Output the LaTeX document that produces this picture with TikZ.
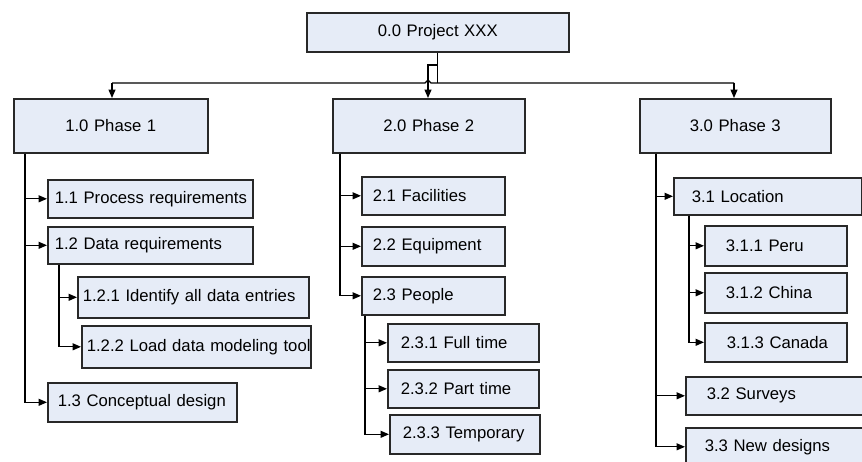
\documentclass[tikz,border=0pt]{standalone}
\usepackage{fontspec}
\setmainfont{Liberation Sans}
\usetikzlibrary{arrows.meta,calc}
\definecolor{boxfill}{RGB}{230,236,247}
\definecolor{boxline}{RGB}{40,40,40}
\begin{document}
\begin{tikzpicture}[x=1pt,y=-1pt,
  box/.style={draw=boxline, fill=boxfill, line width=1.6pt, anchor=north west,
    inner ysep=0pt, font=\fontsize{16.7}{19}\selectfont, align=left},
  cbox/.style={box, align=center},
  conn/.style={line width=1.3pt, draw=black},
  arr/.style={conn, -{Triangle[length=8.5pt,width=7pt]}}]
\useasboundingbox (0,0) rectangle (862,461);
\clip (0,0) rectangle (862,461);

% level 0 and 1
\node[cbox, text width=242pt, inner xsep=10pt, minimum height=39pt] (root) at (306,12) {\mbox{0.0 Project XXX}};
\node[cbox, text width=174pt, inner xsep=10pt, minimum height=54pt] (p1) at (13,98) {\mbox{1.0 Phase 1}};
\node[cbox, text width=172pt, inner xsep=10pt, minimum height=54pt] (p2) at (332,98) {\mbox{2.0 Phase 2}};
\node[cbox, text width=171pt, inner xsep=10pt, minimum height=54pt] (p3) at (639,98) {\mbox{3.0 Phase 3}};

% phase 1
\node[box, text width=191pt, inner xsep=7pt, minimum height=38pt] (n11) at (47,179) {\mbox{1.1 Process requirements}};
\node[box, text width=191pt, inner xsep=7pt, minimum height=37pt] (n12) at (47,226) {\mbox{1.2 Data requirements}};
\node[box, text width=221pt, inner xsep=5pt, minimum height=41pt] (n121) at (77,276) {\mbox{1.2.1 Identify all data entries}};
\node[box, text width=219pt, inner xsep=5pt, minimum height=42pt] (n122) at (81,325) {\mbox{1.2.2 Load data modeling tool}};
\node[box, text width=169pt, inner xsep=10pt, minimum height=39pt] (n13) at (47,382) {\mbox{1.3 Conceptual design}};

% phase 2
\node[box, text width=121pt, inner xsep=11pt, minimum height=38pt] (n21) at (361,176) {\mbox{2.1 Facilities}};
\node[box, text width=121pt, inner xsep=11pt, minimum height=39pt] (n22) at (361,226) {\mbox{2.2 Equipment}};
\node[box, text width=121pt, inner xsep=11pt, minimum height=38pt] (n23) at (361,276) {\mbox{2.3 People}};
\node[box, text width=125pt, inner xsep=13pt, minimum height=38pt] (n231) at (387,323) {\mbox{2.3.1 Full time}};
\node[box, text width=125pt, inner xsep=13pt, minimum height=38pt] (n232) at (387,369) {\mbox{2.3.2 Part time}};
\node[box, text width=124pt, inner xsep=13pt, minimum height=39pt] (n233) at (389,414) {\mbox{2.3.3 Temporary}};

% phase 3
\node[box, text width=152pt, inner xsep=18pt, minimum height=37pt] (n31) at (673,177) {\mbox{3.1 Location}};
\node[box, text width=100pt, inner xsep=21pt, minimum height=40pt] (n311) at (704,225) {\mbox{3.1.1 Peru}};
\node[box, text width=100pt, inner xsep=21pt, minimum height=40pt] (n312) at (704,272) {\mbox{3.1.2 China}};
\node[box, text width=98pt, inner xsep=22pt, minimum height=39pt] (n313) at (704,322) {\mbox{3.1.3 Canada}};
\node[box, text width=158pt, inner xsep=21pt, minimum height=38pt] (n32) at (685,376) {\mbox{3.2 Surveys}};
\node[box, text width=162pt, inner xsep=19pt, minimum height=38pt] (n33) at (685,427) {\mbox{3.3 New designs}};

% top bus
\coordinate (busL) at (112,83);
\coordinate (busR) at (734,83);
\coordinate (hop) at (428,83);
\coordinate (j1) at (437,65);
\coordinate (j2) at (428,65);
\draw[conn] (root.south) -- (root.south |- busL);
\draw[conn] (busL) -- ($(hop)+(-3,0)$) -- ($(hop)+(0,-3)$) -- ($(hop)+(3,0)$) -- (busR);
\draw[arr] (busL) -- (busL |- p1.north);
\draw[arr] (busR) -- (busR |- p3.north);
\draw[arr] (j1) -- (j2) -- (j2 |- p2.north);

% phase 1 children
\draw[arr] ($(p1.south west)+(12,0)$) |- (n11.west);
\draw[arr] ($(p1.south west)+(12,0)$) |- (n12.west);
\draw[arr] ($(p1.south west)+(12,0)$) |- (n13.west);
\draw[arr] ($(n12.south west)+(12,0)$) |- (n121.west);
\draw[arr] ($(n12.south west)+(12,0)$) |- (n122.west);

% phase 2 children
\draw[arr] ($(p2.south west)+(8,0)$) |- (n21.west);
\draw[arr] ($(p2.south west)+(8,0)$) |- (n22.west);
\draw[arr] ($(p2.south west)+(8,0)$) |- (n23.west);
\draw[arr] ($(n23.south west)+(4,0)$) |- (n231.west);
\draw[arr] ($(n23.south west)+(4,0)$) |- (n232.west);
\draw[arr] ($(n23.south west)+(4,0)$) |- (n233.west);

% phase 3 children
\draw[arr] ($(p3.south west)+(17,0)$) |- (n31.west);
\draw[arr] ($(p3.south west)+(17,0)$) |- (n32.west);
\draw[arr] ($(p3.south west)+(17,0)$) |- (n33.west);
\draw[arr] ($(n31.south west)+(16,0)$) |- (n311.west);
\draw[arr] ($(n31.south west)+(16,0)$) |- (n312.west);
\draw[arr] ($(n31.south west)+(16,0)$) |- (n313.west);
\end{tikzpicture}
\end{document}
